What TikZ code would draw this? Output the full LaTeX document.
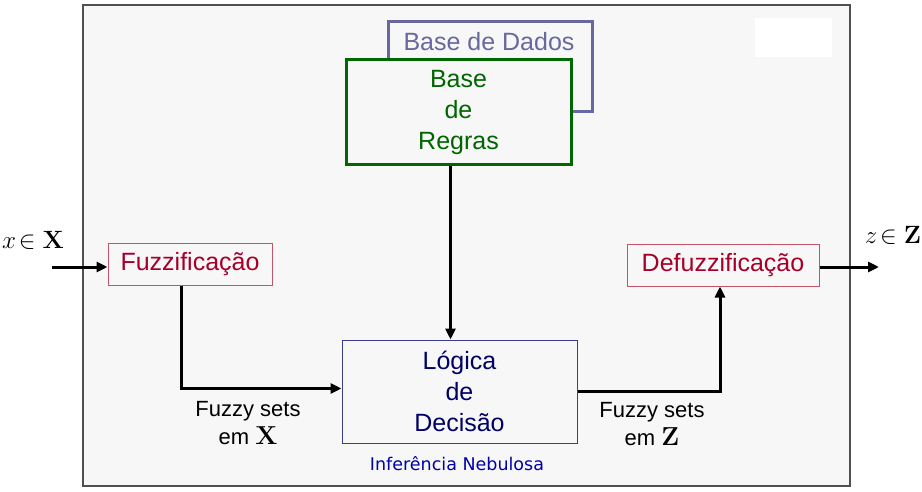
\RequirePackage{fix-cm}
\documentclass[tikz,border=0pt]{standalone}
\usepackage[no-math]{fontspec}
\setmainfont{Liberation Sans}
\newfontfamily\dejavu{DejaVu Sans}
\usetikzlibrary{arrows.meta,positioning,calc}
\definecolor{bggray}{RGB}{247,247,247}
\definecolor{framegray}{RGB}{80,80,80}
\definecolor{fuzzred}{RGB}{166,0,42}
\definecolor{fuzzborder}{RGB}{196,84,104}
\definecolor{rulegreen}{RGB}{0,102,0}
\definecolor{datablue}{RGB}{104,104,158}
\definecolor{logicnavy}{RGB}{0,0,102}
\definecolor{logicborder}{RGB}{60,60,140}
\definecolor{infblue}{RGB}{0,0,170}
\newcommand{\bigset}[1]{{\fontsize{26}{28}\selectfont$\mathbf{#1}$}}

\begin{document}
\begin{tikzpicture}[x=1pt,y=-1pt,
    block/.style={rectangle,draw,align=center,inner sep=0pt},
    fuzzbox/.style={block,draw=fuzzborder,line width=1pt,text=fuzzred,
        font=\fontsize{25}{31}\selectfont,minimum height=41pt},
    flow/.style={line width=3pt,-{Triangle[length=11pt,width=10pt]}},
    caption/.style={align=center,font=\fontsize{22}{28}\selectfont}]
    \useasboundingbox (0,0) rectangle (922,492);

    % Background frame
    \node[block,draw=framegray,fill=bggray,line width=1.5pt,
        minimum width=767pt,minimum height=481pt] (frame) at (466.5,245.5) {};
    \node[rectangle,fill=white,inner sep=0pt,minimum width=77pt,minimum height=39pt]
        (blank) at (793.5,37.5) {};

    % Knowledge base
    \node[block,draw=datablue,line width=3pt,minimum width=204pt,minimum height=90pt]
        (dados) at (490,67) {};
    \node[text=datablue,font=\fontsize{25}{31}\selectfont] (dadoslbl) at (489,42) {Base de Dados};
    \node[block,draw=rulegreen,fill=bggray,line width=3pt,text=rulegreen,
        font=\fontsize{25}{31}\selectfont,minimum width=225pt,minimum height=105pt]
        (regras) at (458.5,112.5) {Base\\de\\Regras};

    % Processing blocks
    \node[fuzzbox,minimum width=164pt] (fuzz) at (190,264.5) {Fuzzificação};
    \node[fuzzbox,minimum width=192pt] (defuzz) at (723,265.5) {Defuzzificação};
    \node[block,draw=logicborder,line width=1pt,text=logicnavy,
        font=\fontsize{25}{31}\selectfont,minimum width=235pt,minimum height=103pt]
        (logica) at (459.5,391.5) {Lógica\\de\\Decisão};
    \node[text=infblue,font=\dejavu\fontsize{17.5}{20}\selectfont] (infer) at (457,464) {Inferência Nebulosa};

    % Inputs and outputs
    \coordinate (xin) at (52,267);
    \coordinate (zout) at (879,267);
    \node[font=\fontsize{25}{28}\selectfont] (xlbl) at (33,240) {$x\!\in\mathbf{X}$};
    \node[font=\fontsize{25}{28}\selectfont] (zlbl) at (893,235) {$z\!\in\mathbf{Z}$};

    % Connectors
    \draw[flow] (xin) -- (fuzz.west |- xin);
    \draw[flow] ([xshift=-9pt]fuzz.south) |- ([yshift=3pt]logica.west);
    \draw[flow] ([xshift=-8pt]regras.south) -- ([xshift=-8pt]regras.south |- logica.north);
    \draw[flow] (logica.east) -| ([xshift=-3pt]defuzz.south);
    \draw[flow] (defuzz.east |- zout) -- (zout);

    % Set labels
    \node[caption] (setsx) at (248,423) {Fuzzy sets\\em \bigset{X}};
    \node[caption] (setsz) at (652,424) {Fuzzy sets\\em \bigset{Z}};
\end{tikzpicture}
\end{document}
